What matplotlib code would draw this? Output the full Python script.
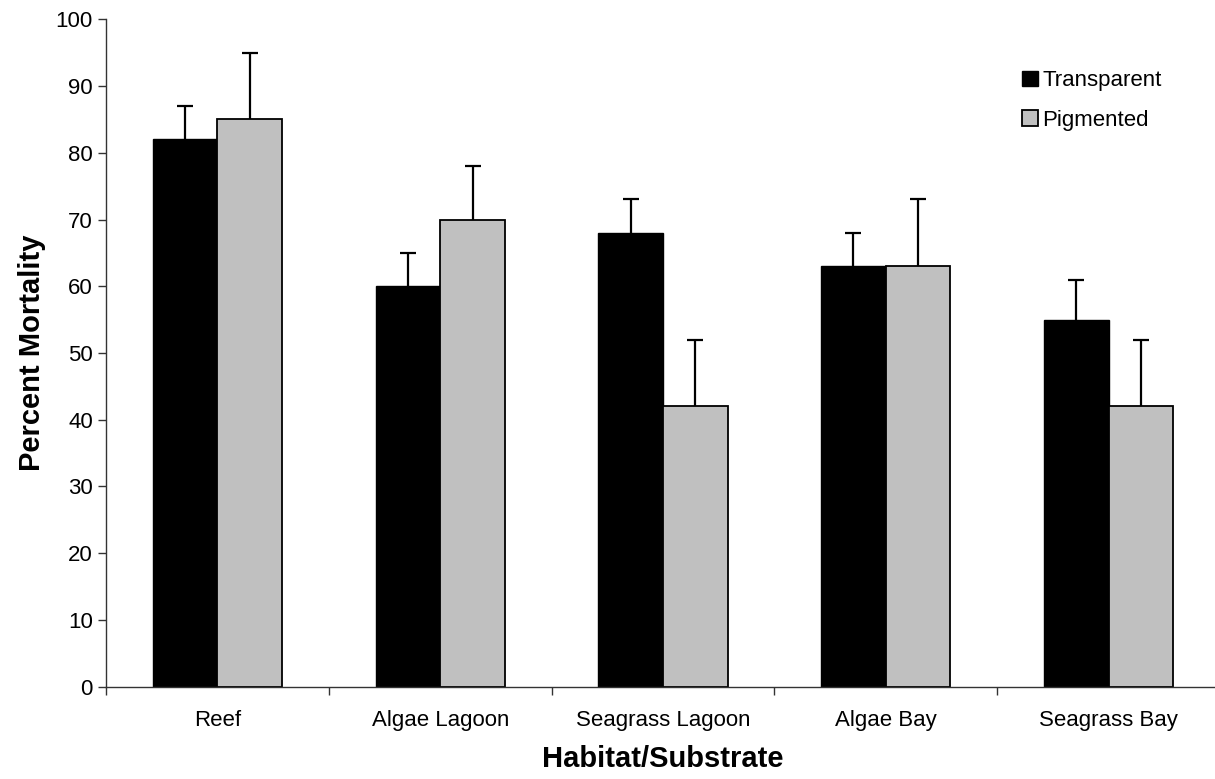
import numpy as np
import matplotlib
matplotlib.use("Agg")
import matplotlib.pyplot as plt

plt.rcParams['font.family'] = ['Liberation Sans', 'DejaVu Sans']

habitats = ["Reef", "Algae Lagoon", "Seagrass Lagoon", "Algae Bay", "Seagrass Bay"]
transparent = [82, 60, 68, 63, 55]
transparent_err = [5, 5, 5, 5, 6]
pigmented = [85, 70, 42, 63, 42]
pigmented_err = [10, 8, 10, 10, 10]
yticks = list(range(0, 101, 10))

fig = plt.figure(figsize=(12.15, 7.79), dpi=100)
ax = fig.add_axes([106 / 1215, 1 - 686.7 / 779, (5 * 222.8) / 1215, 667.4 / 779])
fig.patch.set_facecolor("white")

x = np.arange(len(habitats))
w = 0.29


def upper_errorbar(xpos, values, errs):
    eb = ax.errorbar(xpos, values, yerr=[np.zeros(len(values)), errs], fmt="none",
                     ecolor="black", elinewidth=1.6, capsize=6, capthick=1.6, zorder=1)
    # hide the cap that would sit on the bar top
    for cap in eb[1]:
        ydata = np.asarray(cap.get_ydata())
        if np.allclose(ydata, values):
            cap.set_visible(False)


ax.bar(x - w / 2, transparent, w, color="black", edgecolor="black", linewidth=1,
       label="Transparent", zorder=2)
ax.bar(x + w / 2, pigmented, w, color="#c0c0c0", edgecolor="black", linewidth=1.3,
       label="Pigmented", zorder=2)
upper_errorbar(x - w / 2, transparent, transparent_err)
upper_errorbar(x + w / 2, pigmented, pigmented_err)

ax.set_xlim(-0.5, len(habitats) - 0.5)
ax.set_ylim(0, 100)
ax.set_yticks(yticks)
ax.tick_params(axis="y", direction="out", length=6, width=1, labelsize=16, pad=3.5,
               color="#333333")

ax.set_xticks(np.arange(len(habitats) + 1) - 0.5)
ax.set_xticklabels([])
ax.set_xticks(x, minor=True)
ax.set_xticklabels(habitats, minor=True)
ax.tick_params(axis="x", which="major", direction="out", length=6, width=1, color="#333333")
ax.tick_params(axis="x", which="minor", length=0, labelsize=16, pad=17)

for side in ("top", "right"):
    ax.spines[side].set_visible(False)
for side in ("left", "bottom"):
    ax.spines[side].set_linewidth(1)
    ax.spines[side].set_color("#333333")

ax.set_ylabel("Percent Mortality", fontsize=21, fontweight="bold", labelpad=7)
ax.set_xlabel("Habitat/Substrate", fontsize=21, fontweight="bold", labelpad=10)

leg = ax.legend(loc="upper left", bbox_to_anchor=(1011 / 1215, 1 - 59 / 779),
                bbox_transform=fig.transFigure, frameon=False, fontsize=16,
                handlelength=0.7, handleheight=0.7, handletextpad=0.2,
                labelspacing=0.85, borderpad=0)

fig.savefig("out.png", dpi=100, facecolor="white")
